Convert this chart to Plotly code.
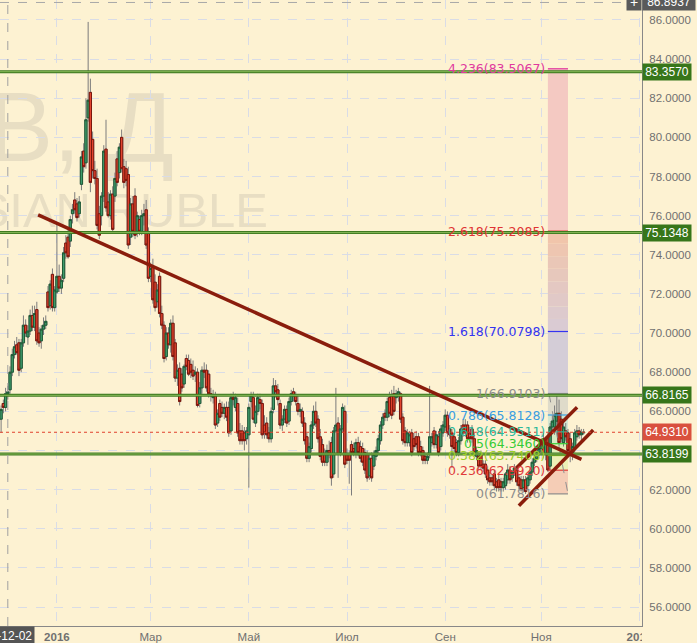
import pandas as pd
import plotly.graph_objects as go

# ---------------- data (daily USD/RUB bars) ----------------
first_bar = "2015-11-27"

opens = [
    65.6,
    66.4, 66.2, 66.9, 67.1, 68.0,
    68.9, 69.4, 69.5, 68.2, 69.5,
    70.4, 69.8, 70.1, 70.9, 70.3,
    71.2, 70.0, 69.6, 70.2, 70.4,
    72.1, 71.4, 73.0, 71.3, 72.1,
    72.9, 72.3, 72.8, 74.6, 74.9,
    74.7, 76.1, 76.8, 76.6, 76.1,
    77.6, 79.3, 78.7, 81.0, 82.3,
    79.9, 78.3, 77.9, 76.1, 76.0,
    77.0, 79.4, 76.7, 76.0, 77.1,
    77.0, 78.9, 78.2, 80.0, 78.5,
    78.4, 78.1, 74.9, 76.6, 77.0,
    75.2, 75.8, 75.2, 76.0, 76.3,
    75.1, 72.9, 73.4, 72.6, 71.6,
    72.9, 71.0, 70.4, 68.8, 70.0,
    69.4, 70.5, 69.5, 67.7, 68.2,
    67.9, 67.4, 68.7, 68.6, 68.4,
    68.1, 67.9, 68.0, 66.4, 67.2,
    68.1, 68.1, 67.9, 66.9, 66.7,
    66.8, 65.4, 66.4, 66.2, 65.9,
    66.2, 66.2, 65.0, 66.7, 66.2,
    66.4, 65.0, 65.0, 64.9, 64.6,
    64.8, 66.5, 66.7, 65.4, 66.0,
    66.6, 66.4, 65.3, 65.4, 64.9,
    64.6, 66.1, 67.3, 67.1, 66.4,
    65.3, 65.6, 66.1, 65.5, 66.5,
    67.0, 66.8, 66.4, 66.0, 66.0,
    65.4, 64.7, 63.6, 64.1, 65.3,
    66.0, 65.6, 64.7, 64.3, 63.8,
    63.4, 64.0, 64.4, 62.8, 65.0,
    65.4, 63.9, 65.1, 66.0, 63.8,
    63.8, 64.3, 64.1, 63.8, 64.4,
    64.2, 64.1, 63.9, 63.8, 62.7,
    63.6, 63.2, 63.7, 64.0, 64.5,
    65.3, 65.9, 65.7, 66.7, 66.8,
    66.9, 66.7, 66.8, 66.9, 65.7,
    65.0, 64.4, 64.4, 64.9, 64.6,
    64.7, 64.7, 64.2, 64.0, 63.7,
    63.5, 63.8, 64.4, 65.0, 64.3,
    64.7, 64.2, 64.9, 65.2, 65.8,
    65.1, 64.9, 64.7, 64.4, 63.9,
    64.5, 65.3, 65.3, 65.3, 64.9,
    65.1, 64.6, 63.7, 63.7, 63.8,
    63.3, 63.3, 63.0, 62.6, 62.6,
    62.8, 62.4, 62.5, 62.4, 62.1,
    62.2, 62.5, 63.0, 62.6, 62.9,
    63.0, 62.6, 62.5, 62.1, 62.5,
    62.2, 62.5, 62.9, 63.4, 63.6,
    63.9, 64.1, 64.6, 63.8, 64.7,
    63.2, 65.2, 65.2, 65.5, 65.9,
    65.6, 64.4, 65.0, 64.9, 64.6,
    63.8, 64.1, 64.7, 65.0, 64.8,
    64.9,
]

highs = [
    66.3,
    66.6, 67.2, 67.3, 68.3, 69.2,
    69.6, 69.8, 69.7, 69.7, 70.9,
    70.7, 70.4, 71.2, 71.4, 71.4,
    71.6, 70.3, 70.4, 70.8, 70.9,
    72.4, 72.7, 73.3, 72.4, 75.6,
    73.5, 73.0, 74.4, 75.0, 75.3,
    76.0, 76.6, 77.2, 76.9, 77.0,
    79.3, 79.7, 82.0, 85.9, 83.0,
    80.3, 78.8, 78.4, 76.5, 77.2,
    79.6, 80.9, 77.2, 77.3, 77.5,
    78.2, 79.3, 79.7, 80.4, 78.9,
    78.8, 78.5, 76.9, 77.0, 77.4,
    76.2, 76.0, 76.3, 76.6, 76.8,
    75.4, 73.6, 73.8, 73.0, 72.5,
    73.1, 71.4, 70.6, 70.3, 70.3,
    70.7, 70.9, 69.7, 68.4, 68.5,
    68.2, 68.4, 68.9, 68.9, 68.7,
    68.6, 68.3, 68.2, 67.5, 68.3,
    68.5, 68.4, 68.1, 67.2, 67.1,
    67.0, 66.1, 66.6, 66.5, 66.4,
    66.5, 66.5, 66.9, 67.0, 66.9,
    66.7, 65.4, 65.3, 65.2, 65.2,
    66.4, 67.0, 67.0, 66.3, 66.9,
    66.9, 66.6, 65.8, 65.7, 65.2,
    66.2, 67.7, 67.6, 67.4, 66.6,
    65.8, 66.3, 66.3, 66.7, 67.1,
    67.2, 67.0, 66.8, 66.4, 66.2,
    65.7, 64.9, 64.4, 65.5, 66.3,
    66.5, 65.8, 65.1, 64.6, 64.1,
    64.3, 64.5, 64.7, 65.2, 67.2,
    65.7, 65.3, 66.4, 66.3, 64.1,
    64.0, 64.5, 64.4, 64.6, 64.7,
    64.5, 64.4, 64.1, 64.0, 63.8,
    63.9, 64.0, 64.2, 64.8, 65.5,
    65.9, 66.1, 66.7, 67.0, 67.1,
    67.3, 67.1, 67.2, 67.0, 65.9,
    65.2, 65.1, 65.0, 65.1, 64.9,
    65.0, 64.9, 64.5, 64.2, 63.9,
    63.9, 67.3, 64.9, 65.2, 65.0,
    65.0, 65.3, 65.5, 66.1, 66.0,
    65.3, 65.1, 64.9, 64.6, 64.7,
    65.3, 65.6, 65.6, 65.5, 65.2,
    65.3, 64.9, 64.2, 63.9, 64.0,
    63.5, 63.5, 63.2, 62.9, 62.8,
    63.0, 62.6, 62.8, 62.6, 62.6,
    62.9, 63.3, 63.2, 63.0, 63.3,
    63.2, 62.8, 62.7, 62.7, 62.7,
    62.8, 63.1, 63.6, 63.8, 64.1,
    64.3, 64.6, 64.9, 64.5, 64.9,
    65.4, 65.8, 66.3, 66.91, 66.6,
    66.0, 65.4, 65.4, 65.1, 64.9,
    64.4, 65.1, 65.3, 65.2, 65.1,
    65.1,
]

lows = [
    64.9,
    65.9, 66.0, 66.6, 66.9, 67.8,
    68.7, 68.9, 67.8, 68.0, 69.3,
    69.8, 69.4, 69.9, 70.1, 70.1,
    69.4, 69.3, 69.2, 69.9, 70.2,
    71.1, 71.2, 71.1, 71.1, 72.0,
    72.1, 72.0, 72.6, 73.8, 73.8,
    74.4, 75.6, 76.1, 75.7, 75.9,
    77.3, 78.2, 78.4, 80.8, 77.2,
    77.9, 77.6, 75.3, 74.8, 75.5,
    76.7, 76.2, 75.9, 75.8, 75.1,
    76.7, 77.5, 77.9, 78.2, 77.4,
    77.5, 74.3, 74.5, 74.9, 74.8,
    74.9, 75.0, 75.0, 75.5, 74.3,
    72.6, 72.6, 71.5, 71.1, 71.3,
    70.8, 70.2, 68.5, 68.6, 69.2,
    69.0, 68.6, 67.5, 67.3, 66.3,
    67.0, 67.2, 68.1, 67.8, 67.7,
    67.6, 67.5, 66.2, 66.2, 66.9,
    67.7, 67.0, 66.7, 66.5, 66.4,
    65.1, 65.2, 65.5, 65.7, 65.6,
    65.5, 64.7, 64.8, 66.3, 66.0,
    64.7, 64.3, 64.3, 64.0, 64.3,
    62.1, 66.2, 65.4, 65.2, 65.8,
    66.1, 64.6, 64.6, 64.6, 64.4,
    64.4, 65.9, 66.7, 66.3, 65.1,
    65.0, 65.4, 65.2, 65.3, 66.3,
    66.5, 66.3, 65.8, 65.7, 65.2,
    64.3, 63.4, 63.4, 63.9, 65.1,
    65.2, 64.4, 63.5, 63.2, 63.2,
    63.2, 63.6, 62.2, 62.6, 64.9,
    62.6, 63.7, 64.9, 63.1, 63.3,
    62.3, 61.7, 63.7, 63.6, 63.7,
    63.4, 63.2, 62.8, 62.4, 62.5,
    62.4, 63.0, 63.5, 63.8, 64.3,
    65.1, 65.5, 65.5, 65.7, 65.6,
    65.8, 66.4, 66.5, 65.4, 64.3,
    64.2, 64.2, 64.2, 63.7, 64.0,
    64.1, 63.7, 63.7, 63.3, 63.3,
    63.3, 63.6, 64.2, 64.1, 64.1,
    63.7, 64.0, 64.7, 65.0, 64.7,
    64.6, 63.1, 63.9, 63.7, 63.7,
    64.3, 64.7, 64.7, 64.4, 64.4,
    64.4, 63.7, 63.5, 63.0, 63.0,
    62.9, 62.6, 62.3, 62.2, 62.2,
    62.0, 61.9, 61.9, 61.9, 61.9,
    62.0, 62.3, 62.3, 62.4, 62.7,
    62.2, 62.0, 61.9, 61.9, 61.78,
    62.0, 62.3, 62.7, 63.2, 63.4,
    63.7, 63.9, 63.6, 63.5, 62.9,
    63.0, 64.9, 64.8, 65.3, 64.2,
    64.4, 64.2, 64.5, 63.8, 63.4,
    63.5, 63.9, 64.5, 64.6, 64.5,
    64.8,
]

closes = [
    66.1,
    66.2, 66.9, 67.0, 68.0, 68.9,
    69.3, 69.0, 68.1, 69.5, 70.4,
    70.0, 70.1, 70.9, 70.3, 71.0,
    69.6, 69.5, 70.2, 70.4, 70.6,
    71.3, 72.5, 71.3, 72.2, 72.9,
    72.3, 72.7, 74.1, 74.1, 73.9,
    75.8, 76.3, 76.3, 75.9, 76.7,
    79.0, 78.5, 80.9, 81.9, 77.7,
    78.3, 77.9, 75.5, 75.0, 77.0,
    79.3, 76.4, 76.0, 77.1, 75.3,
    77.9, 77.7, 79.5, 78.4, 77.7,
    77.8, 74.5, 76.6, 75.2, 75.0,
    76.0, 75.2, 76.0, 76.1, 74.5,
    72.8, 73.3, 71.7, 71.3, 72.2,
    71.0, 70.4, 68.7, 70.0, 69.4,
    70.5, 68.8, 67.7, 68.1, 66.5,
    67.2, 68.3, 68.3, 67.9, 68.0,
    67.8, 68.0, 66.3, 67.2, 68.1,
    68.0, 67.2, 66.9, 66.8, 66.8,
    65.3, 65.9, 65.7, 65.9, 66.2,
    65.7, 64.9, 66.7, 66.6, 66.7,
    64.9, 64.5, 64.5, 64.5, 65.0,
    66.2, 66.8, 65.6, 66.0, 66.7,
    66.4, 64.8, 64.9, 64.8, 64.6,
    66.0, 67.3, 67.0, 66.6, 65.3,
    65.6, 66.1, 65.4, 66.5, 66.9,
    66.8, 66.5, 66.0, 66.1, 65.4,
    64.5, 63.6, 64.2, 65.3, 66.0,
    65.4, 64.6, 63.7, 63.4, 63.4,
    64.0, 63.8, 62.6, 65.0, 65.3,
    63.8, 65.1, 66.2, 63.3, 63.5,
    63.5, 63.9, 63.9, 64.4, 63.9,
    63.6, 63.4, 63.0, 62.6, 63.6,
    62.6, 63.8, 64.0, 64.6, 65.3,
    65.7, 65.7, 66.5, 65.9, 65.8,
    66.0, 66.9, 67.0, 65.6, 64.5,
    64.4, 64.9, 64.8, 63.9, 64.2,
    64.3, 63.9, 63.9, 63.5, 63.5,
    63.7, 64.7, 64.7, 64.3, 64.8,
    63.9, 65.1, 65.3, 65.8, 64.9,
    64.8, 64.2, 64.1, 63.9, 64.5,
    65.1, 64.9, 64.9, 64.6, 64.6,
    64.6, 63.9, 64.0, 63.2, 63.2,
    63.1, 62.8, 62.5, 62.4, 62.4,
    62.2, 62.1, 62.1, 62.1, 62.4,
    62.8, 63.0, 62.5, 62.9, 63.1,
    62.4, 62.2, 62.0, 62.5, 61.9,
    62.6, 62.9, 63.4, 63.6, 63.9,
    64.1, 64.4, 63.8, 64.4, 63.0,
    65.2, 65.5, 65.8, 65.9, 64.4,
    64.6, 65.2, 64.7, 64.0, 63.8,
    64.2, 64.9, 65.0, 64.8, 64.9,
    64.931,
]

dates = pd.bdate_range(start=first_bar, periods=len(closes))

# horizontal levels / labels
support_levels = [83.3570, 75.1348, 66.8165, 63.8199]
support_labels = ["83.3570", "75.1348", "66.8165", "63.8199"]
last_price = 64.9310
last_label = "64.9310"
cursor_price = 86.8937
cursor_label = "86.8937"
cursor_date = "2015-12-02"
cursor_date_label = "15-12-02"

# trend lines: (date0, price0, date1, price1)
trend_lines = [
    ("2015-12-21 14:00", 76.04, "2016-11-25 01:00", 63.55),
    ("2016-10-14 19:00", 63.09, "2016-11-23 02:00", 66.21),
    ("2016-10-18 00:00", 61.18, "2016-12-02 07:00", 65.05),
]

# fibonacci extension tool
fib_ratios = ["0", "0.236", "0.382", "0.5", "0.618", "0.786", "1", "1.618", "2.618", "4.236"]
fib_values = [61.7816, 62.9920, 63.7408, 64.3460, 64.9511, 65.8128, 66.9103, 70.0798, 75.2085, 83.5067]
fib_colors = ["#8c8c8c", "#e03a3a", "#9ccc2a", "#36cc36", "#2ab89a", "#3a9ee0",
              "#8c8c8c", "#3434f0", "#e03434", "#e03a9e"]
fib_fills = ["#f5cdb6", "#eef0b6", "#e2efb8", "#d6ecc2", "#d4e6d2", "#dfdbca",
             "#d4cdd7", None, "#f4c9c2"]
fib_start = "2016-11-04"
fib_end = "2016-11-17"
fib_label_x = "2016-11-03 14:00"

month_ticks = ["2016-01-01", "2016-03-01", "2016-05-02", "2016-07-01",
               "2016-09-01", "2016-11-01", "2017-01-02"]
month_labels = ["<b>2016</b>", "Мар", "Май", "Июл", "Сен", "Ноя", "<b>2017</b>"]

# ---------------- figure ----------------
BG = "#fdf2d2"
GRID = "#d9dce6"
AXIS_FONT = dict(family="Liberation Sans, Arial, sans-serif", size=11.5, color="#707070")

body_top = [max(o, c) for o, c in zip(opens, closes)]
body_bot = [min(o, c) for o, c in zip(opens, closes)]

fig = go.Figure()

# wicks (grey)
fig.add_trace(go.Candlestick(
    x=dates, open=opens, high=highs, low=lows, close=closes,
    increasing=dict(line=dict(color="#7c7c7c", width=1), fillcolor="rgba(0,0,0,0)"),
    decreasing=dict(line=dict(color="#7c7c7c", width=1), fillcolor="rgba(0,0,0,0)"),
    whiskerwidth=0, hoverinfo="skip", showlegend=False,
))
# bodies
fig.add_trace(go.Candlestick(
    x=dates, open=opens, high=body_top, low=body_bot, close=closes,
    increasing=dict(line=dict(color="#1f5a36", width=1), fillcolor="#3f9c6c"),
    decreasing=dict(line=dict(color="#7a160c", width=1), fillcolor="#e2452f"),
    whiskerwidth=0, showlegend=False,
))

shapes = []
annotations = []

# watermark (drawn below the candles)
shapes.append(dict(
    type="rect", xref="paper", yref="paper", x0=-1.0, x1=177 / 642, y0=0.75, y1=0.873,
    line=dict(width=0), fillcolor="rgba(0,0,0,0)", layer="between",
    label=dict(text="USDRUB, Д", textposition="middle right", padding=0,
               font=dict(family="Liberation Sans, Arial, sans-serif", size=98, color="#e8dec3")),
))
shapes.append(dict(
    type="rect", xref="paper", yref="paper", x0=-1.0, x1=271 / 642, y0=0.64, y1=0.7066,
    line=dict(width=0), fillcolor="rgba(0,0,0,0)", layer="between",
    label=dict(text="US DOLLAR / RUSSIAN RUBLE", textposition="middle right", padding=0,
               font=dict(family="Liberation Sans, Arial, sans-serif", size=49, color="#e8dec3")),
))

# fibonacci bands
for i, fc in enumerate(fib_fills):
    lo, hi = fib_values[i], fib_values[i + 1]
    if fc is not None:
        shapes.append(dict(type="rect", xref="x", yref="y", x0=fib_start, x1=fib_end,
                           y0=lo, y1=hi, line=dict(width=0), fillcolor=fc, layer="between"))
    else:
        # gradient from lavender (bottom) to peach (top)
        c0 = (0xd9, 0xcc, 0xd6)
        c1 = (0xf3, 0xc5, 0xa9)
        n = 8
        for k in range(n):
            t = (k + 0.5) / n
            col = "rgb(%d,%d,%d)" % tuple(int(c0[j] + (c1[j] - c0[j]) * t) for j in range(3))
            shapes.append(dict(type="rect", xref="x", yref="y", x0=fib_start, x1=fib_end,
                               y0=lo + (hi - lo) * k / n, y1=lo + (hi - lo) * (k + 1) / n,
                               line=dict(width=0), fillcolor=col, layer="between"))

# fib level lines and labels
for r, v, c in zip(fib_ratios, fib_values, fib_colors):
    shapes.append(dict(type="line", xref="x", yref="y", x0=fib_start, x1=fib_end, y0=v, y1=v,
                       line=dict(color=c, width=1.2), layer="above"))
    annotations.append(dict(x=fib_label_x, y=v, xref="x", yref="y", xanchor="right", yanchor="middle",
                            text="%s(%.4f)" % (r, v), showarrow=False,
                            font=dict(family="DejaVu Sans, sans-serif", size=12.5, color=c)))
# fib diagonal
shapes.append(dict(type="line", xref="x", yref="y", x0="2016-11-04 12:00", y0=fib_values[6],
                   x1=fib_end, y1=fib_values[0], line=dict(color="#909090", width=1, dash="dash"),
                   layer="above"))

# support / resistance lines
for lv, lab in zip(support_levels, support_labels):
    shapes.append(dict(type="line", xref="paper", yref="y", x0=0, x1=1, y0=lv, y1=lv,
                       line=dict(color="#3f7a20", width=3), layer="above"))
    shapes.append(dict(type="line", xref="paper", yref="y", x0=0, x1=1, y0=lv, y1=lv,
                       line=dict(color="#86b858", width=1), layer="above"))
    annotations.append(dict(x=1, y=lv, xref="paper", yref="y", xanchor="left", yanchor="middle",
                            text=lab, showarrow=False, bgcolor="#37761a", width=46, height=14,
                            borderpad=1, font=dict(family="Liberation Sans, Arial, sans-serif",
                                                   size=12, color="white")))

# trend lines
for x0, y0, x1, y1 in trend_lines:
    shapes.append(dict(type="line", xref="x", yref="y", x0=x0, y0=y0, x1=x1, y1=y1,
                       line=dict(color="#8a1d0c", width=3.5), layer="above"))

# last price dotted line + label
shapes.append(dict(type="line", xref="paper", yref="y", x0=0, x1=1, y0=last_price, y1=last_price,
                   line=dict(color="#e0402c", width=1, dash="dot"), layer="above"))
annotations.append(dict(x=1, y=last_price, xref="paper", yref="y", xanchor="left", yanchor="middle",
                        text=last_label, showarrow=False, bgcolor="#d9503e", width=46, height=14,
                        borderpad=1, font=dict(family="Liberation Sans, Arial, sans-serif",
                                               size=12, color="white")))

# crosshair
shapes.append(dict(type="line", xref="x", yref="paper", x0=cursor_date, x1=cursor_date, y0=0, y1=1,
                   line=dict(color="#a0a0a0", width=1, dash="dash"), layer="above"))
shapes.append(dict(type="line", xref="paper", yref="y", x0=0, x1=1, y0=cursor_price, y1=cursor_price,
                   line=dict(color="#a8a8a8", width=1, dash="dash"), layer="above"))
annotations.append(dict(x=1, y=cursor_price, xref="paper", yref="y", xanchor="left", yanchor="middle",
                        text=cursor_label, showarrow=False, bgcolor="#5a5a5a", width=50, height=14,
                        borderpad=1, font=dict(family="Liberation Sans, Arial, sans-serif",
                                               size=12, color="white")))
annotations.append(dict(x=626 / 642, y=cursor_price, xref="paper", yref="y", xanchor="left",
                        yanchor="middle", text="+", showarrow=False, bgcolor="#5a5a5a", width=12,
                        height=14, borderpad=1,
                        font=dict(family="Liberation Sans, Arial, sans-serif", size=14, color="white")))
annotations.append(dict(x=cursor_date, y=0, xref="x", yref="paper", xanchor="center", yanchor="top",
                        text=cursor_date_label, showarrow=False, bgcolor="#555555", borderpad=2,
                        font=dict(family="Liberation Sans, Arial, sans-serif", size=12, color="white")))

# hide the part of the 2017 label that lies beyond the plot edge
shapes.append(dict(type="rect", xref="paper", yref="paper", x0=1.0, x1=1.2, y0=-0.03, y1=-0.0016,
                   line=dict(width=0), fillcolor=BG, layer="above"))

fig.update_layout(
    width=697, height=643,
    margin=dict(l=0, r=55, t=0, b=17),
    paper_bgcolor=BG, plot_bgcolor=BG,
    showlegend=False,
    boxgap=0, boxgroupgap=0,
    shapes=shapes, annotations=annotations,
    xaxis=dict(
        type="date",
        range=["2015-11-26 12:00", "2017-01-03 04:00"],
        rangebreaks=[dict(bounds=["sat", "mon"])],
        rangeslider=dict(visible=False),
        tickmode="array", tickvals=month_ticks, ticktext=month_labels,
        showgrid=True, gridcolor=GRID, griddash="dash", gridwidth=1,
        showline=True, linecolor="#888888", linewidth=1,
        ticks="", tickfont=AXIS_FONT, zeroline=False,
    ),
    yaxis=dict(
        side="right", range=[55.03, 87.02],
        tickmode="linear", tick0=0, dtick=2, tickformat=".4f",
        showgrid=True, gridcolor=GRID, griddash="dash", gridwidth=1,
        showline=True, linecolor="#888888", linewidth=1,
        ticks="", ticklabelstandoff=4, tickfont=AXIS_FONT, zeroline=False,
    ),
)

fig.write_html(
    "out.html",
    config={"displayModeBar": False},
    post_script="document.body.style.margin='0px';document.body.style.overflow='hidden';"
                "document.body.style.background='" + BG + "';",
)
